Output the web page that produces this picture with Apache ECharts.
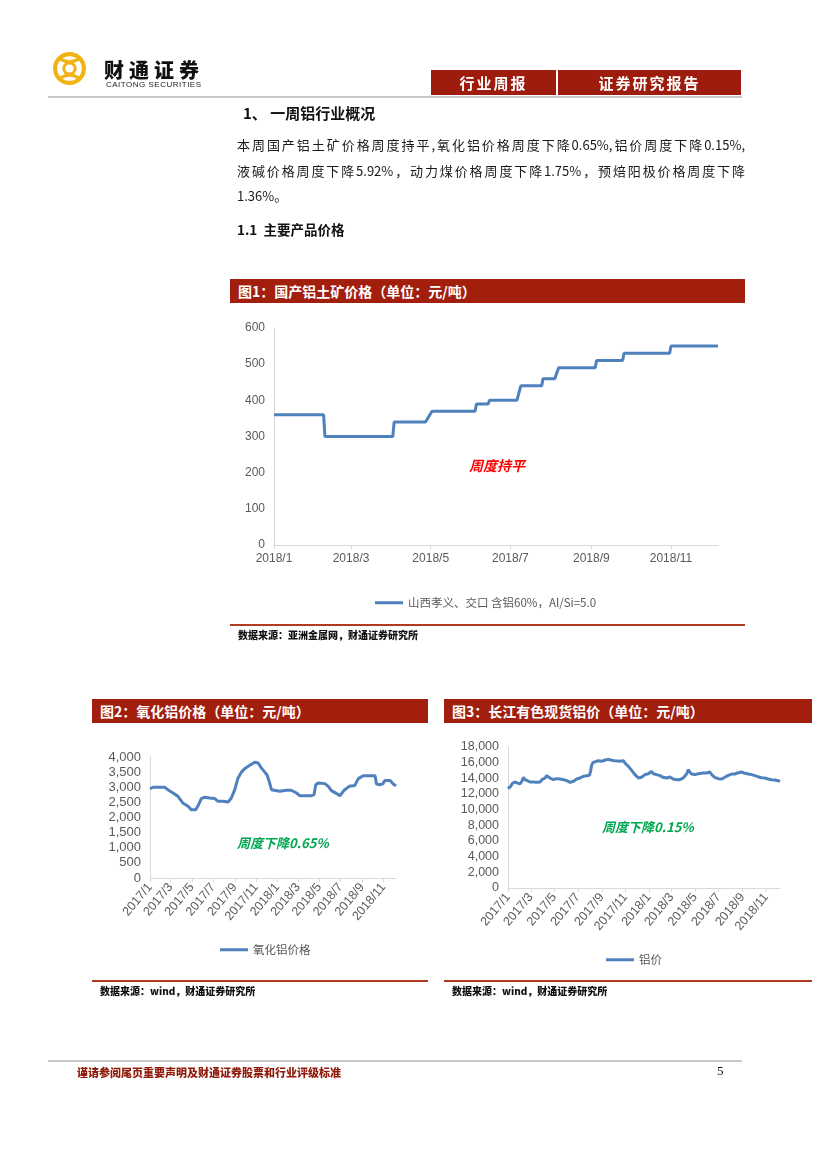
<!DOCTYPE html>
<html><head><meta charset="utf-8">
<script src="https://cdn.jsdelivr.net/npm/echarts@6/dist/echarts.min.js"></script>
<style>
html,body{margin:0;padding:0;background:#fff;}
#page{position:relative;width:827px;height:1170px;overflow:hidden;font-family:"Noto Sans CJK SC","Noto Sans",sans-serif;background:#fff;}
#chart{position:absolute;left:0;top:0;width:827px;height:1170px;}
.t{position:absolute;white-space:nowrap;}
.box{position:absolute;background:#9E1C0D;color:#fff;font-weight:bold;font-size:15px;text-align:center;line-height:25px;height:25px;letter-spacing:2px;}
.banner{position:absolute;background:#A21F0E;color:#fff;font-weight:bold;font-size:14px;line-height:24px;height:24px;padding-left:8px;box-sizing:border-box;}
.src{position:absolute;font-weight:900;font-size:10px;color:#111;white-space:nowrap;}
.rl{position:absolute;height:2px;background:#B03A22;}
.para{position:absolute;left:237px;width:508px;font-size:13px;color:#1a1a1a;text-align:justify;text-align-last:justify;white-space:nowrap;line-height:20px;}
.ann{position:absolute;font-weight:bold;font-style:italic;white-space:nowrap;transform:translate(-50%,-50%);}
</style></head>
<body>
<div id="page">
  <div id="chart"></div>
  <!-- header -->
  <svg class="t" style="left:52px;top:51px" width="35" height="35" viewBox="0 0 34 34">
    <circle cx="17" cy="17" r="14" fill="none" stroke="#F3B214" stroke-width="4"/>
    <circle cx="17" cy="17" r="5.5" fill="none" stroke="#F3B214" stroke-width="3"/>
    <path d="M7 7 Q17 14 27 7 M7 27 Q17 20 27 27" fill="none" stroke="#F3B214" stroke-width="3"/>
  </svg>
  <div class="t" style="left:104px;top:60px;font-size:20px;line-height:20px;font-weight:900;letter-spacing:5px;color:#111;">财通证券</div>
  <div class="t" style="left:106px;top:81px;font-size:8px;line-height:8px;font-family:'Liberation Sans',Arial,sans-serif;color:#222;letter-spacing:0.5px;">CAITONG SECURITIES</div>
  <div class="box" style="left:431px;top:70px;width:125px;">行业周报</div>
  <div class="box" style="left:558px;top:70px;width:183px;">证券研究报告</div>
  <div class="t" style="left:48px;top:96px;width:694px;height:2px;background:#C8C8C8;"></div>

  <div class="t" style="left:243px;top:102px;font-size:15px;font-weight:bold;color:#111;">1、&nbsp;一周铝行业概况</div>
  <div class="para" style="top:135px;">本周国产铝土矿价格周度持平,氧化铝价格周度下降0.65%,铝价周度下降0.15%,</div>
  <div class="para" style="top:161px;">液碱价格周度下降5.92%，动力煤价格周度下降1.75%，预焙阳极价格周度下降</div>
  <div class="t" style="left:237px;top:186px;font-size:13px;color:#1a1a1a;line-height:20px;">1.36%。</div>
  <div class="t" style="left:237px;top:219px;font-size:13.5px;font-weight:bold;color:#111;">1.1&nbsp;&nbsp;主要产品价格</div>

  <!-- figure banners -->
  <div class="banner" style="left:230px;top:279px;width:515px;">图1：国产铝土矿价格（单位：元/吨）</div>
  <div class="banner" style="left:92px;top:699px;width:336px;">图2：氧化铝价格（单位：元/吨）</div>
  <div class="banner" style="left:444px;top:699px;width:368px;">图3：长江有色现货铝价（单位：元/吨）</div>

  <div class="ann" style="left:497px;top:465px;font-size:14px;color:#FF0000;">周度持平</div>
  <div class="ann" style="left:283px;top:842px;font-size:13px;color:#00A650;">周度下降0.65%</div>
  <div class="ann" style="left:648px;top:826px;font-size:13px;color:#00A650;">周度下降0.15%</div>

  <div class="rl" style="left:230px;top:624px;width:515px;"></div>
  <div class="src" style="left:238px;top:627px;">数据来源：亚洲金属网，财通证券研究所</div>
  <div class="rl" style="left:92px;top:980px;width:336px;"></div>
  <div class="src" style="left:100px;top:983px;">数据来源：wind，财通证券研究所</div>
  <div class="rl" style="left:444px;top:980px;width:368px;"></div>
  <div class="src" style="left:452px;top:983px;">数据来源：wind，财通证券研究所</div>

  <!-- footer -->
  <div class="t" style="left:48px;top:1060px;width:694px;height:2px;background:#C8C8C8;"></div>
  <div class="t" style="left:77px;top:1064px;font-size:11px;font-weight:900;color:#8E1B0B;">谨请参阅尾页重要声明及财通证券股票和行业评级标准</div>
  <div class="t" style="left:717px;top:1063px;font-size:13px;color:#111;font-family:'Liberation Serif',serif;">5</div>
</div>
<script>
// ---------- data ----------
const name1 = '山西孝义、交口 含铝60%，Al/Si=5.0';
const dates1 = ['2018-01-01','2018-02-08','2018-02-09','2018-04-02','2018-04-03','2018-04-27','2018-05-02','2018-06-04','2018-06-05','2018-06-14','2018-06-15','2018-07-06','2018-07-09','2018-07-25','2018-07-26','2018-08-04','2018-08-07','2018-09-04','2018-09-05','2018-09-25','2018-09-26','2018-10-31','2018-11-01','2018-12-07'];
const values1 = [360,360,300,300,340,340,370,370,390,390,400,400,440,440,460,460,490,490,510,510,530,530,550,550];
const ticks1 = ['2018-01-01','2018-03-01','2018-05-01','2018-07-01','2018-09-01','2018-11-01'];

const name2 = '氧化铝价格';
const dates2 = ['2017-01-01','2017-01-10','2017-02-12','2017-02-21','2017-03-08','2017-03-22','2017-04-05','2017-04-20','2017-04-29','2017-05-12','2017-05-18','2017-05-28','2017-06-07','2017-06-21','2017-07-05','2017-07-15','2017-07-29','2017-08-13','2017-08-22','2017-09-01','2017-09-10','2017-09-20','2017-09-29','2017-10-14','2017-10-28','2017-11-07','2017-11-16','2017-11-26','2017-12-03','2017-12-10','2017-12-15','2017-12-20','2018-01-08','2018-01-27','2018-02-10','2018-02-25','2018-03-06','2018-04-09','2018-04-16','2018-04-21','2018-04-28','2018-05-17','2018-05-27','2018-06-05','2018-06-20','2018-06-29','2018-07-04','2018-07-13','2018-07-26','2018-08-11','2018-08-21','2018-09-04','2018-10-08','2018-10-12','2018-10-22','2018-10-30','2018-11-05','2018-11-20','2018-11-29','2018-12-07'];
const values2 = [2950,3000,3000,2920,2810,2700,2480,2370,2260,2260,2370,2620,2670,2645,2630,2535,2535,2510,2645,2920,3300,3500,3615,3725,3825,3800,3640,3500,3390,3140,2920,2865,2865,2900,2900,2810,2720,2720,2755,3085,3140,3120,3030,2890,2790,2720,2755,2920,3030,3060,3285,3380,3380,3110,3085,3110,3220,3220,3110,3050];

const name3 = '铝价';
const dates3 = ['2017-01-01','2017-01-04','2017-01-08','2017-01-13','2017-01-20','2017-01-26','2017-02-01','2017-02-06','2017-02-10','2017-02-14','2017-02-20','2017-02-27','2017-03-08','2017-03-17','2017-03-25','2017-03-30','2017-04-07','2017-04-11','2017-04-16','2017-04-20','2017-04-29','2017-05-07','2017-05-16','2017-05-25','2017-06-02','2017-06-11','2017-06-20','2017-06-28','2017-07-07','2017-07-15','2017-07-24','2017-07-31','2017-08-03','2017-08-06','2017-08-10','2017-08-15','2017-08-23','2017-09-01','2017-09-10','2017-09-18','2017-09-27','2017-10-05','2017-10-18','2017-10-27','2017-10-31','2017-11-09','2017-11-18','2017-11-26','2017-12-05','2017-12-13','2017-12-22','2017-12-31','2018-01-08','2018-01-13','2018-01-21','2018-01-30','2018-02-07','2018-02-16','2018-02-25','2018-03-05','2018-03-14','2018-03-22','2018-03-31','2018-04-09','2018-04-13','2018-04-17','2018-04-22','2018-04-30','2018-05-09','2018-05-22','2018-05-31','2018-06-08','2018-06-13','2018-06-21','2018-06-30','2018-07-09','2018-07-17','2018-07-26','2018-08-03','2018-08-12','2018-08-21','2018-08-29','2018-09-07','2018-09-16','2018-09-24','2018-10-03','2018-10-11','2018-10-20','2018-10-29','2018-11-06','2018-11-15','2018-11-24','2018-12-02','2018-12-07'];
const values3 = [12700,12550,12980,13400,13530,13400,13280,13620,14130,13830,13700,13530,13530,13490,13530,13830,14040,14340,14170,14040,13830,13960,13910,13830,13700,13490,13620,13910,14040,14250,14340,14380,14890,15740,16040,16170,16250,16170,16340,16420,16300,16250,16170,16250,15960,15530,14980,14470,14040,14130,14470,14590,14890,14590,14470,14340,14130,14040,14170,13910,13830,13830,14040,14550,15110,14810,14550,14470,14590,14680,14680,14810,14470,14130,13960,13910,14130,14380,14550,14550,14720,14810,14640,14550,14470,14340,14210,14080,14040,13910,13830,13790,13700,13620];
const ticks23 = ['2017-01-01','2017-03-01','2017-05-01','2017-07-01','2017-09-01','2017-11-01','2018-01-01','2018-03-01','2018-05-01','2018-07-01','2018-09-01','2018-11-01'];

// ---------- helpers ----------
function ts(s){const p=s.split('-');return new Date(+p[0],+p[1]-1,+p[2]).getTime();}
function fmtDate(v){const d=new Date(v);return d.getFullYear()+'/'+(d.getMonth()+1);}
function fmtNum(v){return Number(v).toLocaleString('en-US');}
const BLUE='#4F81BD', AX='#D9D9D9', LBL='#595959', NUMFONT="'Liberation Sans',Arial,sans-serif";

function xAxisDate(grid, ticks, start, end, rotate, fs){
  const tv = ticks.map(ts);
  return {type:'value', gridIndex:grid, min:ts(start), max:ts(end), scale:true,
    axisLine:{show:true, onZero:false, lineStyle:{color:AX, width:1}},
    axisTick:{show:true, customValues:tv, length:4, lineStyle:{color:AX}},
    axisLabel:{customValues:tv, formatter:fmtDate, color:LBL, fontSize:fs, fontFamily:NUMFONT, rotate:rotate, margin:rotate?7:8, hideOverlap:false, showMinLabel:true, showMaxLabel:true},
    splitLine:{show:false}};
}
function yAxisVal(grid, max, interval, fs, fmt){
  return {type:'value', gridIndex:grid, min:0, max:max, interval:interval,
    axisLine:{show:true, lineStyle:{color:AX}}, axisTick:{show:false},
    axisLabel:{color:LBL, fontSize:fs, fontFamily:NUMFONT, margin:9, formatter:fmt},
    splitLine:{show:false}};
}
function seriesOf(name, dates, values, idx){
  return {type:'line', name:name, xAxisIndex:idx, yAxisIndex:idx,
    data:dates.map((d,i)=>[ts(d), values[i]]),
    symbol:'none', showSymbol:false, smooth:false,
    lineStyle:{width:3, color:BLUE}, itemStyle:{color:BLUE}};
}
function legendOf(name, left, top){
  return {data:[name], left:left, top:top, icon:'rect', itemWidth:28, itemHeight:3, itemGap:4,
    selectedMode:false, textStyle:{color:LBL, fontSize:11.5, fontFamily:"'Noto Sans CJK SC',sans-serif"}};
}

const chart = echarts.init(document.getElementById('chart'), null, {renderer:'canvas'});
chart.setOption({
  animation:false,
  backgroundColor:'transparent',
  grid:[
    {left:274, top:328, width:444, height:217},
    {left:150, top:757, width:246, height:121},
    {left:508, top:747, width:272, height:141}
  ],
  xAxis:[
    xAxisDate(0, ticks1, '2018-01-01', '2018-12-07', 0, 12),
    xAxisDate(1, ticks23, '2017-01-01', '2018-12-07', 50, 12.5),
    xAxisDate(2, ticks23, '2017-01-01', '2018-12-07', 50, 12.5)
  ],
  yAxis:[
    yAxisVal(0, 600, 100, 12, null),
    yAxisVal(1, 4000, 500, 13, fmtNum),
    yAxisVal(2, 18000, 2000, 12.5, fmtNum)
  ],
  legend:[
    legendOf(name1, 370, 592),
    legendOf(name2, 215, 939),
    legendOf(name3, 601, 949)
  ],
  series:[
    seriesOf(name1, dates1, values1, 0),
    seriesOf(name2, dates2, values2, 1),
    seriesOf(name3, dates3, values3, 2)
  ]
});
</script>
</body></html>
